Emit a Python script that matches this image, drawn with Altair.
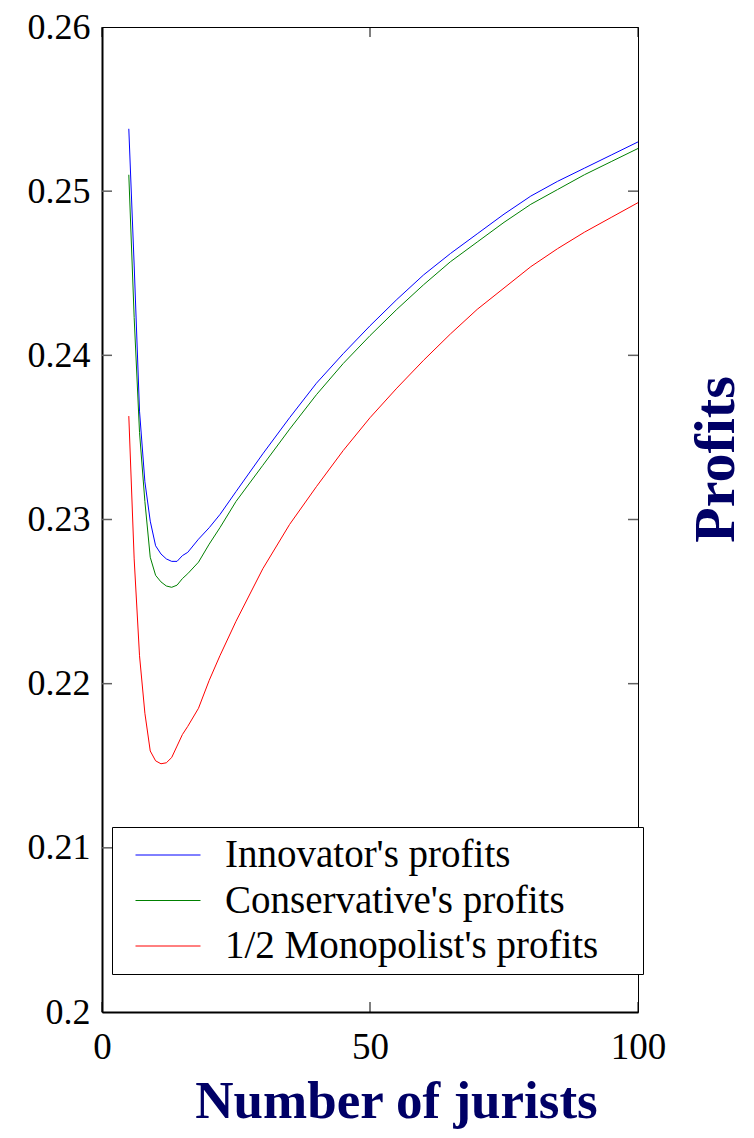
import altair as alt
import pandas as pd

# ---- data ----
jurists = [5, 6, 7, 8, 9, 10, 11, 12, 13, 14, 15, 16, 18, 20, 22, 25, 30, 35, 40,
           45, 50, 55, 60, 65, 70, 75, 80, 85, 90, 95, 100]
innovator = [0.2538, 0.2455, 0.2366, 0.2323, 0.2299, 0.2284, 0.2279, 0.2276, 0.22745,
             0.22745, 0.2278, 0.2280, 0.2288, 0.2295, 0.2303, 0.2317, 0.2340, 0.2362,
             0.2383, 0.2401, 0.2418, 0.2434, 0.2449, 0.2462, 0.2474, 0.2486, 0.2497,
             0.2506, 0.2514, 0.2522, 0.2530]
conservative = [0.2510, 0.2423, 0.2353, 0.2311, 0.2277, 0.2266, 0.2262, 0.22595, 0.22587,
                0.2260, 0.2264, 0.2267, 0.2274, 0.2285, 0.2295, 0.2311, 0.2333, 0.2355,
                0.2376, 0.2395, 0.2412, 0.2428, 0.2443, 0.2457, 0.2469, 0.2481, 0.2492,
                0.2501, 0.2510, 0.2518, 0.2526]
monopolist = [0.2363, 0.2276, 0.2217, 0.2182, 0.2159, 0.2153, 0.21512, 0.21518, 0.2155,
              0.2162, 0.2169, 0.2174, 0.2185, 0.2202, 0.2217, 0.2238, 0.2270, 0.2297,
              0.2320, 0.2342, 0.2362, 0.2380, 0.2397, 0.2413, 0.2428, 0.2441, 0.2454,
              0.2465, 0.2475, 0.2484, 0.2493]
series_names = ["Innovator's profits", "Conservative's profits", "1/2 Monopolist's profits"]
series_colors = ["#0000ff", "#008000", "#ff0000"]
y_tick_values = [0.2, 0.21, 0.22, 0.23, 0.24, 0.25, 0.26]
x_tick_values = [0, 50, 100]

rows = []
for name, vals in zip(series_names, [innovator, conservative, monopolist]):
    for xv, yv in zip(jurists, vals):
        rows.append({"jurists": xv, "profit": yv, "series": name})
df = pd.DataFrame(rows)

W, H = 536, 985
FONT = "Liberation Serif"
NAVY = "#000066"
xs = alt.Scale(domain=[0, 100], nice=False)
ys = alt.Scale(domain=[0.2, 0.26], nice=False, zero=False)

lines = alt.Chart(df).mark_line(strokeWidth=1).encode(
    x=alt.X("jurists:Q", scale=xs,
            axis=alt.Axis(values=x_tick_values, title="Number of jurists", grid=False,
                          ticks=False, domain=True, domainColor="black", domainWidth=2,
                          labelFont=FONT, labelFontSize=37, labelColor="black",
                          labelPadding=17, labelFlush=False,
                          titleFont=FONT, titleFontWeight="bold", titleFontSize=53,
                          titleColor=NAVY, titleX=294, titleY=105, titleAlign="center",
                          titleBaseline="alphabetic")),
    y=alt.Y("profit:Q", scale=ys,
            axis=alt.Axis(values=y_tick_values, format=".2~f", title="Profits", grid=False,
                          ticks=False, domain=True, domainColor="black", domainWidth=2,
                          labelFont=FONT, labelFontSize=36, labelColor="black",
                          labelPadding=12, labelFlush=False,
                          titleFont=FONT, titleFontWeight="bold", titleFontSize=58,
                          titleColor=NAVY, titleX=614, titleY=432, titleAngle=270,
                          titleAlign="center", titleBaseline="middle")),
    color=alt.Color("series:N", sort=series_names,
                    scale=alt.Scale(domain=series_names, range=series_colors),
                    legend=alt.Legend(orient="none", legendX=10, legendY=800,
                                      title="\u00a0", titleOrient="right", titlePadding=39,
                                      titleFontSize=39, titleFont=FONT,
                                      fillColor="white", strokeColor="black", padding=5.5,
                                      symbolType="stroke", symbolSize=4225,
                                      symbolStrokeWidth=1, symbolOffset=17.5, labelOffset=24,
                                      labelFont=FONT, labelFontSize=39, labelColor="black",
                                      labelLimit=700, clipHeight=45, rowPadding=0.5)),
)

ytick_df = pd.DataFrame({"v": y_tick_values[1:-1]})
xtick_df = pd.DataFrame({"v": x_tick_values})
TICK = "#606060"

left_ticks = alt.Chart(ytick_df).mark_rule(color=TICK, strokeWidth=1.5).encode(
    y=alt.Y("v:Q", scale=ys), x=alt.value(0), x2=alt.value(10))
right_ticks = alt.Chart(ytick_df).mark_rule(color=TICK, strokeWidth=1.5).encode(
    y=alt.Y("v:Q", scale=ys), x=alt.value(W - 10), x2=alt.value(W))
bottom_ticks = alt.Chart(xtick_df).mark_rule(color="black", strokeWidth=1).encode(
    x=alt.X("v:Q", scale=xs), y=alt.value(H - 10), y2=alt.value(H))
top_ticks = alt.Chart(xtick_df).mark_rule(color="black", strokeWidth=1).encode(
    x=alt.X("v:Q", scale=xs), y=alt.value(0), y2=alt.value(10))

chart = alt.layer(lines, left_ticks, right_ticks, bottom_ticks, top_ticks).properties(
    width=W, height=H, autosize="none", background="white",
    padding={"left": 94, "top": 19, "right": 108, "bottom": 118},
).configure_view(stroke="black", strokeWidth=1)

chart.save("out.html", embed_options={"renderer": "svg", "actions": False})
